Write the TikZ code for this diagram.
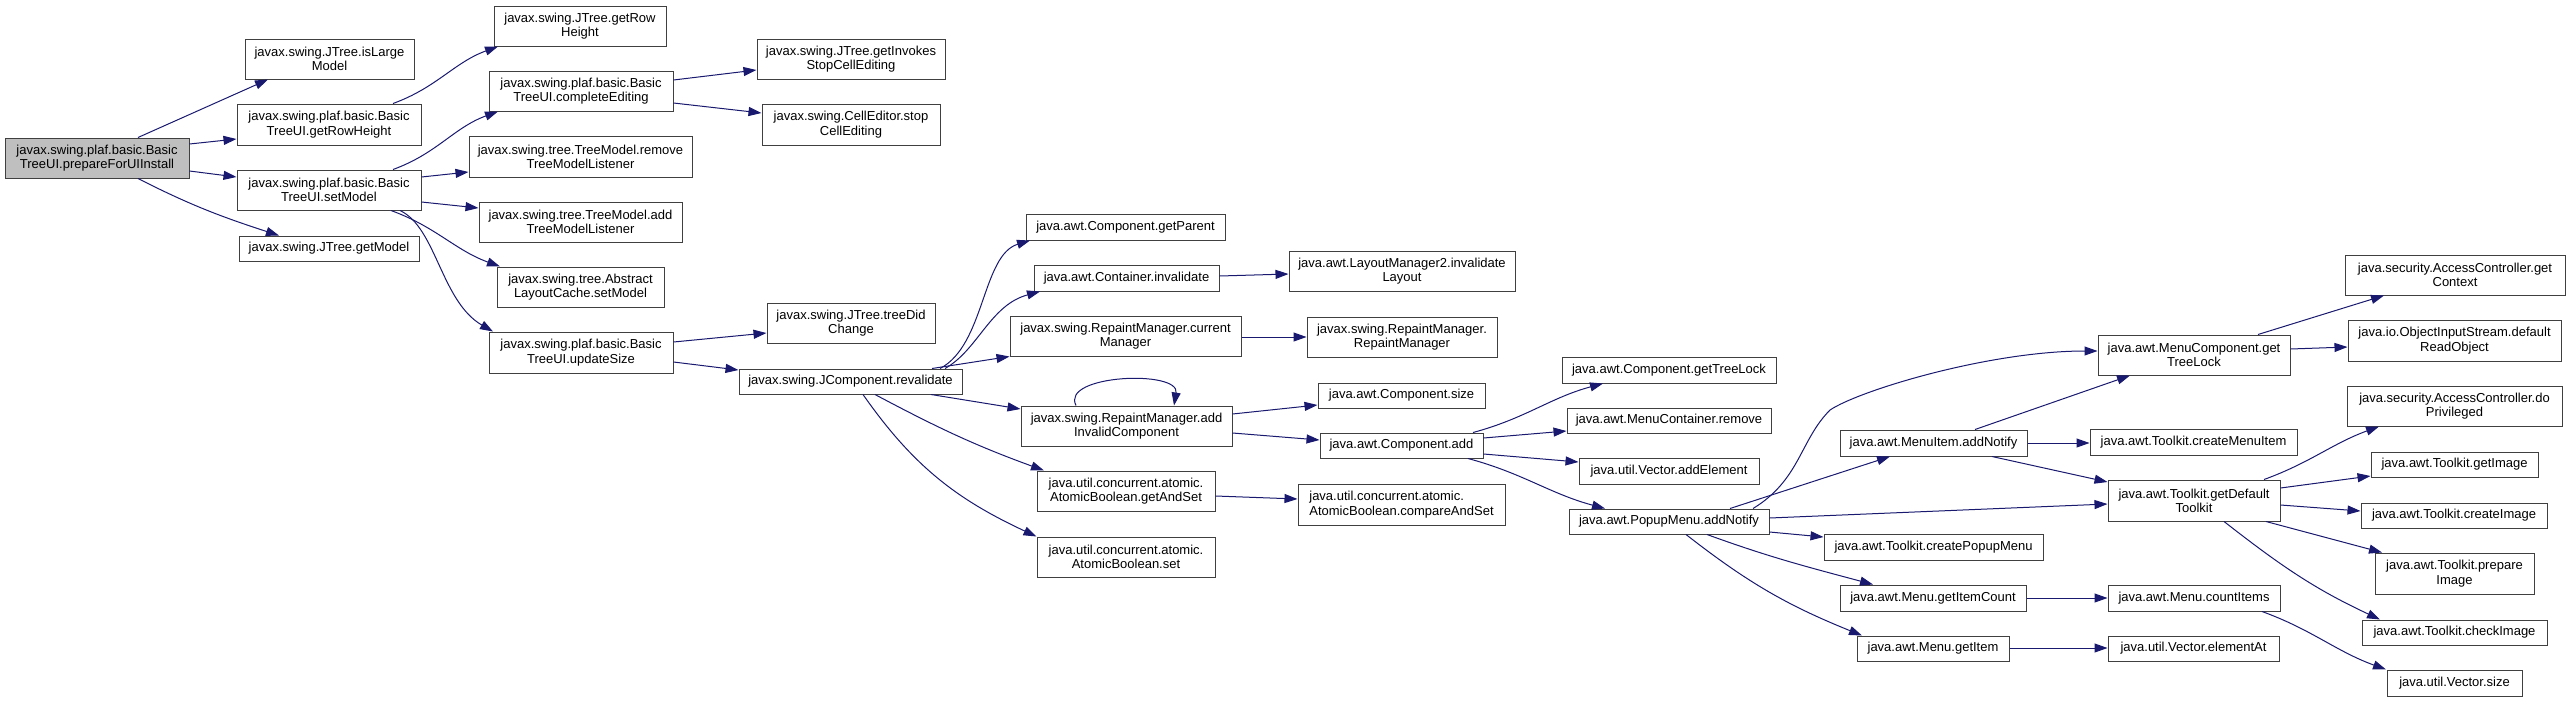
\documentclass[tikz,border=0pt]{standalone}
\usepackage{fontspec}
\setmainfont{Liberation Sans}
\usetikzlibrary{arrows.meta}
\definecolor{edgeblue}{HTML}{191970}
\definecolor{boxline}{HTML}{404040}
\definecolor{rootfill}{HTML}{BFBFBF}
\tikzset{
  box/.style={draw=boxline,line width=1pt,fill=white,rectangle,inner sep=0pt,align=center,
    font=\fontsize{13}{14.3}\selectfont},
  rootbox/.style={box,fill=rootfill},
  edge/.style={draw=edgeblue,line width=1pt,-{Triangle[length=13pt,width=9pt]}}
}
\newcommand\bx[7][]{\node[box,#1,minimum width={(#5-#3)*1pt},minimum height={(#6-#4)*1pt}] (#2) at ({(#3+#5)/2},{(#4+#6)/2}) {#7};}
\begin{document}
\begin{tikzpicture}[x=1pt,y=-1pt]
\fill[white] (0,0) rectangle (2569,702);
\useasboundingbox (0,0) rectangle (2569,702);
% nodes
\bx[rootbox]{root}{5}{138}{189}{178}{javax.swing.plaf.basic.Basic\\TreeUI.prepareForUIInstall}
\bx{isLarge}{245}{39}{414}{79}{javax.swing.JTree.isLarge\\Model}
\bx{btRowH}{237}{104}{421}{145}{javax.swing.plaf.basic.Basic\\TreeUI.getRowHeight}
\bx{setModel}{237}{170}{421}{210}{javax.swing.plaf.basic.Basic\\TreeUI.setModel}
\bx{getModel}{239}{236}{419}{261}{javax.swing.JTree.getModel}
\bx{jtRowH}{494}{6}{666}{46}{javax.swing.JTree.getRow\\Height}
\bx{complEd}{489}{71}{673}{111}{javax.swing.plaf.basic.Basic\\TreeUI.completeEditing}
\bx{remTML}{469}{136}{692}{177}{javax.swing.tree.TreeModel.remove\\TreeModelListener}
\bx{addTML}{479}{202}{682}{242}{javax.swing.tree.TreeModel.add\\TreeModelListener}
\bx{alcSet}{497}{267}{664}{307}{javax.swing.tree.Abstract\\LayoutCache.setModel}
\bx{updSize}{489}{332}{673}{373}{javax.swing.plaf.basic.Basic\\TreeUI.updateSize}
\bx{invStop}{757}{39}{945}{79}{javax.swing.JTree.getInvokes\\StopCellEditing}
\bx{ceStop}{762}{104}{940}{145}{javax.swing.CellEditor.stop\\CellEditing}
\bx{treeDid}{767}{303}{935}{343}{javax.swing.JTree.treeDid\\Change}
\bx{revalid}{739}{369}{962}{394}{javax.swing.JComponent.revalidate}
\bx{getPar}{1026}{214}{1225}{240}{java.awt.Component.getParent}
\bx{contInv}{1034}{265}{1219}{291}{java.awt.Container.invalidate}
\bx{curMgr}{1010}{316}{1241}{356}{javax.swing.RepaintManager.current\\Manager}
\bx{addInv}{1021}{406}{1232}{446}{javax.swing.RepaintManager.add\\InvalidComponent}
\bx{getAndSet}{1037}{471}{1215}{511}{java.util.concurrent.atomic.\\AtomicBoolean.getAndSet}
\bx{abSet}{1037}{537}{1215}{577}{java.util.concurrent.atomic.\\AtomicBoolean.set}
\bx{invLay}{1289}{251}{1515}{291}{java.awt.LayoutManager2.invalidate\\Layout}
\bx{rmRm}{1307}{317}{1497}{357}{javax.swing.RepaintManager.\\RepaintManager}
\bx{compSize}{1318}{383}{1485}{408}{java.awt.Component.size}
\bx{compAdd}{1320}{433}{1483}{458}{java.awt.Component.add}
\bx[align=left]{cas}{1298}{484}{1505}{525}{java.util.concurrent.atomic.\\AtomicBoolean.compareAndSet}
\bx{getTL}{1562}{357}{1776}{383}{java.awt.Component.getTreeLock}
\bx{mcRem}{1567}{408}{1771}{433}{java.awt.MenuContainer.remove}
\bx{addEl}{1579}{458}{1759}{484}{java.util.Vector.addElement}
\bx{popup}{1569}{509}{1769}{534}{java.awt.PopupMenu.addNotify}
\bx{miAdd}{1840}{430}{2027}{456}{java.awt.MenuItem.addNotify}
\bx{crPopup}{1824}{534}{2043}{560}{java.awt.Toolkit.createPopupMenu}
\bx{getIC}{1840}{585}{2026}{611}{java.awt.Menu.getItemCount}
\bx{getItem}{1857}{636}{2009}{661}{java.awt.Menu.getItem}
\bx{mcTL}{2098}{335}{2290}{375}{java.awt.MenuComponent.get\\TreeLock}
\bx{getCtx}{2345}{255}{2565}{295}{java.security.AccessController.get\\Context}
\bx{readObj}{2348}{320}{2561}{361}{java.io.ObjectInputStream.default\\ReadObject}
\bx{crMI}{2090}{429}{2297}{455}{java.awt.Toolkit.createMenuItem}
\bx{gdt}{2108}{480}{2280}{521}{java.awt.Toolkit.getDefault\\Toolkit}
\bx{cntItems}{2108}{585}{2280}{611}{java.awt.Menu.countItems}
\bx{elemAt}{2108}{636}{2279}{661}{java.util.Vector.elementAt}
\bx{doPriv}{2347}{386}{2562}{426}{java.security.AccessController.do\\Privileged}
\bx{getImg}{2371}{452}{2538}{477}{java.awt.Toolkit.getImage}
\bx{crImg}{2361}{503}{2547}{528}{java.awt.Toolkit.createImage}
\bx{prepImg}{2375}{553}{2534}{594}{java.awt.Toolkit.prepare\\Image}
\bx{chkImg}{2362}{620}{2547}{645}{java.awt.Toolkit.checkImage}
\bx{vSize}{2387}{670}{2522}{696}{java.util.Vector.size}
% edges
\draw[edge] (138,0 |- root.north) -- (268,0 |- isLarge.south);
\draw[edge] (root.east |- 0,144) -- (btRowH.west |- 0,139);
\draw[edge] (root.east |- 0,171) -- (setModel.west |- 0,177);
\draw[edge] (138,0 |- root.south) to[out=-27,in=162] (279,0 |- getModel.north);
\draw[edge] (393,0 |- btRowH.north) to[out=20,in=200] (498,0 |- jtRowH.south);
\draw[edge] (393,0 |- setModel.north) to[out=20,in=200] (498,0 |- complEd.south);
\draw[edge] (setModel.east |- 0,177) -- (remTML.west |- 0,172);
\draw[edge] (setModel.east |- 0,202) -- (addTML.west |- 0,208);
\draw[edge] (391,0 |- setModel.south) to[out=-20,in=160] (500,0 |- alcSet.north);
\draw[edge] (400,0 |- setModel.south) .. controls +(-25:40pt) and +(150:60pt) .. (493,0 |- updSize.north);
\draw[edge] (complEd.east |- 0,80) -- (invStop.west |- 0,70);
\draw[edge] (complEd.east |- 0,103) -- (ceStop.west |- 0,113);
\draw[edge] (updSize.east |- 0,342) -- (treeDid.west |- 0,333);
\draw[edge] (updSize.east |- 0,362) -- (revalid.west |- 0,370);
\draw[edge] (940,0 |- revalid.north) .. controls (985,345) and (982,255) .. (1030,0 |- getPar.south);
\draw[edge] (945,0 |- revalid.north) .. controls (978,350) and (990,305) .. (1040,0 |- contInv.south);
\draw[edge] (932,0 |- revalid.north) -- (curMgr.south west);
\draw[edge] (931,0 |- revalid.south) -- (addInv.west |- 0,409);
\draw[edge] (875,0 |- revalid.south) to[out=-28,in=160] (1044,0 |- getAndSet.north);
\draw[edge] (863,0 |- revalid.south) to[out=-55,in=155] (abSet.north west);
\draw[edge] (contInv.east |- 0,276) -- (invLay.west |- 0,274);
\draw[edge] (curMgr.east |- 0,337) -- (rmRm.west |- 0,337);
\draw[edge] (1076,0 |- addInv.north) .. controls +(-16,-31) and +(6,-36) .. (1174,0 |- addInv.north);
\draw[edge] (addInv.east |- 0,414) -- (compSize.west |- 0,405);
\draw[edge] (addInv.east |- 0,433) -- (compAdd.west |- 0,440);
\draw[edge] (getAndSet.east |- 0,496) -- (cas.west |- 0,499);
\draw[edge] (1473,0 |- compAdd.north) to[out=15,in=195] (1603,0 |- getTL.south);
\draw[edge] (compAdd.east |- 0,438) -- (mcRem.west |- 0,431);
\draw[edge] (compAdd.east |- 0,454) -- (addEl.west |- 0,462);
\draw[edge] (1468,0 |- compAdd.south) to[out=-15,in=165] (1605,0 |- popup.north);
\draw[edge] (1753,0 |- popup.north) .. controls (1800,480) and (1800,440) .. (1830,410) .. controls (1860,390) and (1990,351) .. (mcTL.west |- 0,351);
\draw[edge] (1730,0 |- popup.north) -- (1890,0 |- miAdd.south);
\draw[edge] (popup.east |- 0,518) -- (gdt.west |- 0,504);
\draw[edge] (popup.east |- 0,532) -- (crPopup.west |- 0,537);
\draw[edge] (1707,0 |- popup.south) to[out=-20,in=165] (1873,0 |- getIC.north);
\draw[edge] (1686,0 |- popup.south) to[out=-38,in=158] (1862,0 |- getItem.north);
\draw[edge] (1975,0 |- miAdd.north) -- (2130,0 |- mcTL.south);
\draw[edge] (miAdd.east |- 0,443) -- (crMI.west |- 0,443);
\draw[edge] (1992,0 |- miAdd.south) -- (gdt.west |- 0,482);
\draw[edge] (2258,0 |- mcTL.north) -- (2384,0 |- getCtx.south);
\draw[edge] (mcTL.east |- 0,349) -- (readObj.west |- 0,347);
\draw[edge] (2264,0 |- gdt.north) to[out=20,in=200] (2379,0 |- doPriv.south);
\draw[edge] (gdt.east |- 0,488) -- (getImg.west |- 0,476);
\draw[edge] (gdt.east |- 0,505) -- (crImg.west |- 0,511);
\draw[edge] (2266,0 |- gdt.south) -- (2382,0 |- prepImg.north);
\draw[edge] (2224,0 |- gdt.south) to[out=-38,in=155] (2380,0 |- chkImg.north);
\draw[edge] (getIC.east |- 0,598) -- (cntItems.west |- 0,598);
\draw[edge] (2262,0 |- cntItems.south) to[out=-20,in=160] (2386,0 |- vSize.north);
\draw[edge] (getItem.east |- 0,648) -- (elemAt.west |- 0,648);
\end{tikzpicture}
\end{document}
